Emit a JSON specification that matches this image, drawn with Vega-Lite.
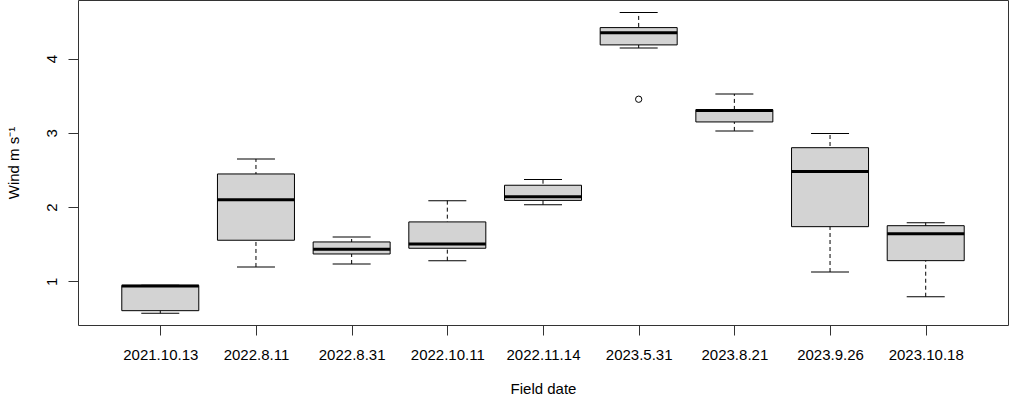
{
  "$schema": "https://vega.github.io/schema/vega-lite/v6.json",
  "width": 930,
  "height": 325,
  "autosize": "none",
  "padding": {"left": 78, "top": 0, "right": 1, "bottom": 73},
  "background": "white",
  "config": {
    "view": {"stroke": "#333333", "strokeWidth": 1},
    "font": "Liberation Sans",
    "axis": {"grid": false, "domain": false, "tickColor": "#333333", "labelColor": "black", "titleColor": "black", "labelFont": "Liberation Sans", "titleFont": "Liberation Sans", "titleFontWeight": "normal", "labelFontSize": 15, "titleFontSize": 15, "tickSize": 10}
  },
  "datasets": {
    "boxes": [
      {"date": "2021.10.13", "lower": 0.569, "q1": 0.604, "median": 0.935, "q3": 0.945, "upper": 0.945},
      {"date": "2022.8.11", "lower": 1.193, "q1": 1.553, "median": 2.10, "q3": 2.446, "upper": 2.648},
      {"date": "2022.8.31", "lower": 1.233, "q1": 1.368, "median": 1.431, "q3": 1.530, "upper": 1.597},
      {"date": "2022.10.11", "lower": 1.278, "q1": 1.445, "median": 1.503, "q3": 1.80, "upper": 2.086},
      {"date": "2022.11.14", "lower": 2.032, "q1": 2.09, "median": 2.14, "q3": 2.294, "upper": 2.37},
      {"date": "2023.5.31", "lower": 4.144, "q1": 4.185, "median": 4.35, "q3": 4.418, "upper": 4.62},
      {"date": "2023.8.21", "lower": 3.026, "q1": 3.147, "median": 3.30, "q3": 3.312, "upper": 3.524},
      {"date": "2023.9.26", "lower": 1.125, "q1": 1.736, "median": 2.48, "q3": 2.80, "upper": 2.99},
      {"date": "2023.10.18", "lower": 0.792, "q1": 1.278, "median": 1.642, "q3": 1.749, "upper": 1.79}
    ],
    "outliers": [
      {"date": "2023.5.31", "value": 3.453}
    ]
  },
  "encoding": {
    "x": {
      "field": "date",
      "type": "nominal",
      "sort": ["2021.10.13", "2022.8.11", "2022.8.31", "2022.10.11", "2022.11.14", "2023.5.31", "2023.8.21", "2023.9.26", "2023.10.18"],
      "scale": {"type": "point", "padding": 0.86},
      "axis": {"title": "Field date", "labelAngle": 0, "labelPadding": 12, "titlePadding": 19}
    }
  },
  "layer": [
    {
      "data": {"name": "boxes"},
      "mark": {"type": "rule", "color": "black", "strokeWidth": 1, "strokeDash": [4, 3]},
      "encoding": {
        "y": {"field": "lower", "type": "quantitative", "scale": {"domain": [0.411, 4.79], "nice": false, "zero": false},
          "axis": {"title": "Wind m s⁻¹", "values": [1, 2, 3, 4], "format": "d", "labelAngle": 270, "labelAlign": "center", "labelBaseline": "bottom", "labelPadding": 9, "titlePadding": 23}},
        "y2": {"field": "upper"}
      }
    },
    {
      "data": {"name": "boxes"},
      "mark": {"type": "tick", "color": "black", "opacity": 1, "thickness": 1, "size": 38},
      "encoding": {"y": {"field": "upper", "type": "quantitative"}}
    },
    {
      "data": {"name": "boxes"},
      "mark": {"type": "tick", "color": "black", "opacity": 1, "thickness": 1, "size": 38},
      "encoding": {"y": {"field": "lower", "type": "quantitative"}}
    },
    {
      "data": {"name": "boxes"},
      "mark": {"type": "bar", "fill": "#D3D3D3", "stroke": "black", "strokeWidth": 1, "opacity": 1, "size": 77},
      "encoding": {
        "y": {"field": "q1", "type": "quantitative"},
        "y2": {"field": "q3"}
      }
    },
    {
      "data": {"name": "boxes"},
      "mark": {"type": "tick", "color": "black", "opacity": 1, "thickness": 3, "size": 77},
      "encoding": {"y": {"field": "median", "type": "quantitative"}}
    },
    {
      "data": {"name": "outliers"},
      "mark": {"type": "point", "shape": "circle", "filled": false, "stroke": "black", "strokeWidth": 1, "opacity": 1, "size": 40},
      "encoding": {"y": {"field": "value", "type": "quantitative"}}
    }
  ]
}
